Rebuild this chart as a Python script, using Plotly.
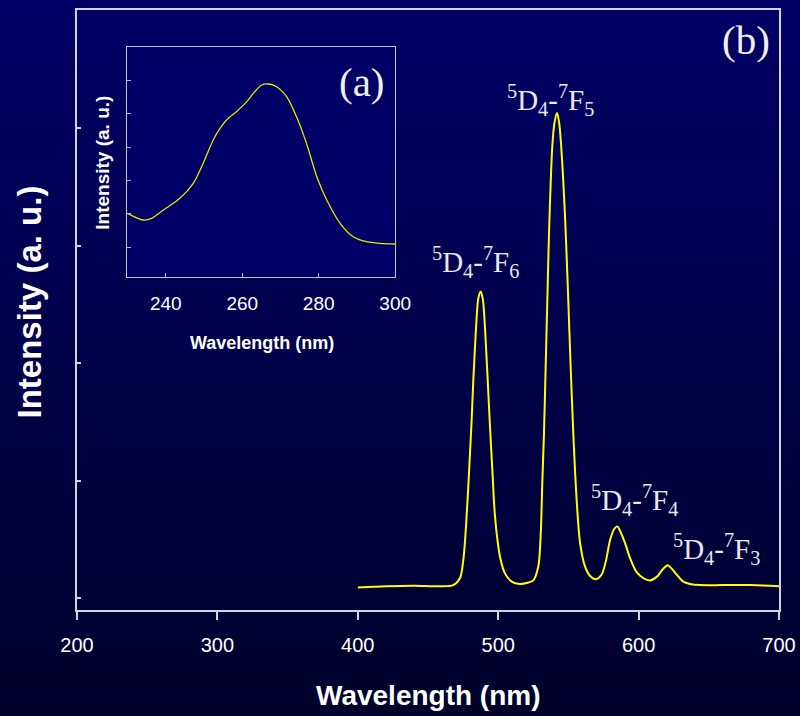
import plotly.graph_objects as go

# ---------------- data ----------------
main_wavelength = [400, 420, 440, 458.5, 468.0, 472.8, 475.1, 476.4, 477.6, 478.7, 479.9, 481.1,
                   482.3, 483.5, 484.7, 485.8, 487.5, 489.0, 490.1, 491.3, 492.5, 493.7, 494.9,
                   496.1, 497.2, 498.9, 501.3, 504.8, 509.6, 515.5, 521.0, 525.0, 528.6, 530.3,
                   531.4, 532.6, 533.8, 535.0, 536.2, 537.4, 538.5, 540.0, 541.9, 543.5, 544.9,
                   546.4, 548.1, 549.9, 551.6, 553.5, 555.9, 558.3, 561.8, 565.4, 569.7, 573.7,
                   576.8, 579.6, 582.7, 584.9, 587.2, 590.3, 593.9, 598.6, 603.4, 608.1, 612.9,
                   617.6, 620.7, 623.6, 627.1, 631.8, 636.6, 643.7, 660, 680, 700]
main_intensity = [0.09, 0.10, 0.105, 0.10, 0.11, 0.17, 0.32, 0.49, 0.72, 0.95, 1.23, 1.52,
                  1.86, 2.14, 2.40, 2.55, 2.61, 2.55, 2.40, 2.14, 1.86, 1.57, 1.29,
                  1.03, 0.78, 0.55, 0.35, 0.21, 0.14, 0.12, 0.13, 0.15, 0.27, 0.55,
                  0.98, 1.40, 1.97, 2.54, 3.11, 3.54, 3.84, 4.04, 4.13, 4.04, 3.84,
                  3.54, 3.11, 2.54, 1.97, 1.40, 0.83, 0.47, 0.27, 0.19, 0.16, 0.20,
                  0.32, 0.49, 0.59, 0.61, 0.56, 0.47, 0.34, 0.22, 0.17, 0.15, 0.18,
                  0.25, 0.28, 0.25, 0.20, 0.14, 0.12, 0.11, 0.11, 0.11, 0.10]

inset_wavelength = [230.0, 234.1, 236.3, 239.4, 243.7, 247.2, 249.8, 252.4, 254.2, 255.9, 258.5,
                    261.2, 262.9, 265.1, 266.8, 269.0, 271.6, 274.2, 276.8, 279.5, 282.1,
                    285.6, 289.0, 292.5, 296.0, 300.0]
inset_intensity = [1.01, 0.81, 0.86, 1.11, 1.46, 1.91, 2.51, 3.21, 3.56, 3.81, 4.06,
                   4.36, 4.61, 4.86, 4.89, 4.81, 4.51, 3.91, 3.11, 2.11, 1.41,
                   0.71, 0.31, 0.16, 0.11, 0.09]

main_xticks = [200, 300, 400, 500, 600, 700]
main_yticks = [0, 1, 2, 3, 4, 5]
inset_xticks = [240, 260, 280, 300]
inset_yticks = [0, 1, 2, 3, 4, 5]

peak_labels = ["<sup>5</sup>D<sub>4</sub>-<sup>7</sup>F<sub>6</sub>",
               "<sup>5</sup>D<sub>4</sub>-<sup>7</sup>F<sub>5</sub>",
               "<sup>5</sup>D<sub>4</sub>-<sup>7</sup>F<sub>4</sub>",
               "<sup>5</sup>D<sub>4</sub>-<sup>7</sup>F<sub>3</sub>"]
peak_label_x = [483.5, 536.9, 597.1, 655.5]
peak_label_y = [2.86, 4.24, 0.835, 0.417]

# ---------------- styling ----------------
SANS = "Arial, Liberation Sans, sans-serif"
SERIF = "Times New Roman, Liberation Serif, serif"
AXIS_COL = "#d4d4dc"
TEXT_COL = "#ffffff"

fig = go.Figure()

fig.add_trace(go.Scatter(x=main_wavelength, y=main_intensity, mode="lines",
                         line=dict(color="#ffff00", width=2, shape="spline", smoothing=0.8),
                         xaxis="x", yaxis="y", showlegend=False, hoverinfo="skip"))
fig.add_trace(go.Scatter(x=inset_wavelength, y=inset_intensity, mode="lines",
                         line=dict(color="#e6e600", width=1.3, shape="spline", smoothing=0.8),
                         xaxis="x2", yaxis="y2", showlegend=False, hoverinfo="skip"))

# gradient background (bands in paper coordinates)
shapes = []
W, H = 800, 716
l, r, t, b = 77, 21, 10, 106
pw, ph = W - l - r, H - t - b
n = 60
top_c = (0, 0, 104)
bot_c = (0, 0, 42)
for i in range(n):
    y0px = H * i / n
    y1px = H * (i + 1) / n
    f = (i + 0.5) / n
    c = tuple(int(round(top_c[k] + (bot_c[k] - top_c[k]) * f)) for k in range(3))
    shapes.append(dict(type="rect", xref="paper", yref="paper", layer="below",
                       x0=-l / pw - 0.01, x1=(W - l) / pw + 0.01,
                       y0=(ph - (y1px - t)) / ph, y1=(ph - (y0px - t)) / ph,
                       fillcolor="rgb(%d,%d,%d)" % c, line=dict(width=0)))
# inset background
inset_x = [0.0719, 0.4533]
inset_y = [0.555, 0.9383]
shapes.append(dict(type="rect", xref="paper", yref="paper", layer="below",
                   x0=inset_x[0], x1=inset_x[1], y0=inset_y[0], y1=inset_y[1],
                   fillcolor="#000066", line=dict(width=0)))

annotations = []
for txt, xx, yy in zip(peak_labels, peak_label_x, peak_label_y):
    annotations.append(dict(text=txt, x=xx, y=yy, xref="x", yref="y", showarrow=False,
                            font=dict(family=SERIF, size=29, color="#e8e8ee"),
                            xanchor="center", yanchor="middle"))
annotations += [
    dict(text="(b)", x=0.953, y=0.95, xref="paper", yref="paper", showarrow=False,
         font=dict(family=SERIF, size=41, color="#f0f0f0"), xanchor="center", yanchor="middle"),
    dict(text="(a)", x=0.4056, y=0.8805, xref="paper", yref="paper", showarrow=False,
         font=dict(family=SERIF, size=41, color="#f0f0f0"), xanchor="center", yanchor="middle"),
    dict(text="<b>Wavelength (nm)</b>", x=0.5014, y=-0.1417, xref="paper", yref="paper",
         showarrow=False, font=dict(family=SANS, size=28, color=TEXT_COL),
         xanchor="center", yanchor="middle"),
    dict(text="<b>Intensity (a. u.)</b>", x=-0.068, y=0.513, xref="paper", yref="paper",
         showarrow=False, textangle=-90, font=dict(family=SANS, size=33, color=TEXT_COL),
         xanchor="center", yanchor="middle"),
    dict(text="<b>Wavelength (nm)</b>", x=0.2635, y=0.445, xref="paper", yref="paper",
         showarrow=False, font=dict(family=SANS, size=18, color=TEXT_COL),
         xanchor="center", yanchor="middle"),
    dict(text="<b>Intensity (a. u.)</b>", x=0.0352, y=0.745, xref="paper", yref="paper",
         showarrow=False, textangle=-90, font=dict(family=SANS, size=19, color=TEXT_COL),
         xanchor="center", yanchor="middle"),
]

fig.update_layout(
    width=W, height=H, autosize=False,
    margin=dict(l=l, r=r, t=t, b=b, pad=0, autoexpand=False),
    paper_bgcolor="#000050", plot_bgcolor="rgba(0,0,0,0)",
    shapes=shapes, annotations=annotations,
    xaxis=dict(domain=[0, 1], range=[200, 700], tickvals=main_xticks, automargin=False,
               ticks="outside", ticklen=8, tickwidth=2, tickcolor=AXIS_COL,
               ticklabelstandoff=8,
               showline=True, linecolor=AXIS_COL, linewidth=2, mirror=True,
               showgrid=False, zeroline=False,
               tickfont=dict(family=SANS, size=20, color=TEXT_COL)),
    yaxis=dict(domain=[0, 1], range=[-0.102, 5.008], tickvals=main_yticks, automargin=False,
               ticks="inside", ticklen=4, tickwidth=1.5, tickcolor=AXIS_COL,
               showline=True, linecolor=AXIS_COL, linewidth=2, mirror=True,
               showgrid=False, zeroline=False, showticklabels=False),
    xaxis2=dict(domain=inset_x, anchor="y2", range=[230, 300], tickvals=inset_xticks,
                automargin=False, ticklabelstandoff=9,
                ticks="inside", ticklen=4, tickwidth=1, tickcolor="#b8b8c0",
                showline=True, linecolor="#c4c4cc", linewidth=1, mirror=True,
                showgrid=False, zeroline=False,
                tickfont=dict(family=SANS, size=19, color=TEXT_COL)),
    yaxis2=dict(domain=inset_y, anchor="x2", range=[-0.9, 6.0], tickvals=inset_yticks,
                automargin=False,
                ticks="inside", ticklen=4, tickwidth=1, tickcolor="#b8b8c0",
                showline=True, linecolor="#c4c4cc", linewidth=1, mirror=True,
                showgrid=False, zeroline=False, showticklabels=False),
)

fig.write_html("out.html")
